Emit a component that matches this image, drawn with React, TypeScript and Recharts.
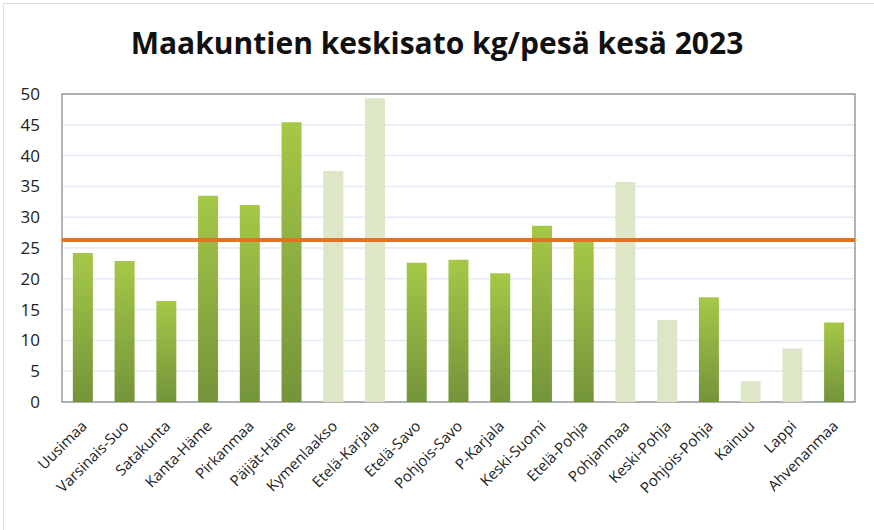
import React from "react";
import {Bar, BarChart, CartesianGrid, Cell, ReferenceArea, ReferenceLine, XAxis, YAxis} from "recharts";

const regions = [
    "Uusimaa", "Varsinais-Suo", "Satakunta", "Kanta-Häme", "Pirkanmaa", "Päijät-Häme",
    "Kymenlaakso", "Etelä-Karjala", "Etelä-Savo", "Pohjois-Savo", "P-Karjala", "Keski-Suomi",
    "Etelä-Pohja", "Pohjanmaa", "Keski-Pohja", "Pohjois-Pohja", "Kainuu", "Lappi", "Ahvenanmaa",
];
const yieldKg = [24.2, 22.9, 16.4, 33.5, 32.0, 45.4, 37.5, 49.3, 22.6, 23.1, 20.9, 28.6, 26.0, 35.7, 13.3, 17.0, 3.4, 8.7, 12.9];
// light bars = regions with few samples
const faded = ["Kymenlaakso", "Etelä-Karjala", "Pohjanmaa", "Keski-Pohja", "Kainuu", "Lappi"];
const countryAverage = 26.3;
const yTicks = [0, 5, 10, 15, 20, 25, 30, 35, 40, 45, 50];

const data = regions.map((name, i) => ({name, value: yieldKg[i]}));

const FONT = "'Open Sans', sans-serif";

const XTick = (props: any) => {
    const {x, y, payload} = props;
    return <g transform={`translate(${x + 5},${y + 17})`}>
        <text textAnchor="end" transform="rotate(-45)" fontSize={15} fill="#222" fontFamily={FONT}>
            {payload.value}
        </text>
    </g>
}

export default function App() {
    return <div style={{position: "absolute", left: 0, top: 0, width: 874, height: 530, background: "#fff"}}>
        <div style={{position: "absolute", left: 3, top: 3, width: 871, height: 527,
            borderLeft: "1px solid #d5e0ee", borderTop: "1px solid #d5e0ee"}}/>
        <div style={{position: "absolute", left: 0, top: 22, width: 874, textAlign: "center", lineHeight: "42px",
            fontFamily: FONT, fontWeight: 700, fontSize: 30, color: "#111"}}>
            Maakuntien keskisato kg/pesä kesä 2023
        </div>
        <BarChart width={874} height={530} data={data}
                  margin={{top: 94, right: 19, bottom: 28, left: 0}}
                  barCategoryGap="26%">
            <defs>
                <linearGradient id="greenBar" x1="0" y1="0" x2="0" y2="1">
                    <stop offset="0%" stopColor="#a5c847"/>
                    <stop offset="100%" stopColor="#74943a"/>
                </linearGradient>
            </defs>
            <CartesianGrid vertical={false} stroke="#e4ebf6" strokeWidth={1.5}/>
            <XAxis dataKey="name" interval={0} tick={<XTick/>} tickLine={false} axisLine={false} height={100}/>
            <YAxis domain={[0, 50]} ticks={yTicks} width={62} tickLine={false} axisLine={false}
                   tickSize={0} tickMargin={22}
                   tick={{fontSize: 17, fill: "#222", fontFamily: FONT}}/>
            <ReferenceArea y1={0} y2={50} fill="none" stroke="#9a9a9a" strokeWidth={1.5}/>
            <Bar dataKey="value" isAnimationActive={false}>
                {data.map(d => <Cell key={d.name} fill={faded.includes(d.name) ? "#dde6c6" : "url(#greenBar)"}/>)}
            </Bar>
            <ReferenceLine y={countryAverage} stroke="#e37322" strokeWidth={4}/>
        </BarChart>
    </div>
}
